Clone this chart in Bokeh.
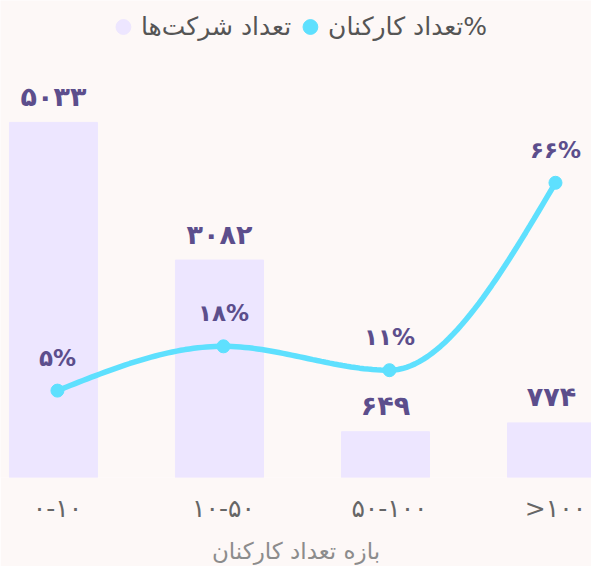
import numpy as np
from bokeh.plotting import figure
from bokeh.models import Range1d, ColumnDataSource, Legend, LegendItem, FixedTicker
from bokeh.core.properties import value
from bokeh.embed import file_html
from bokeh.resources import INLINE

# ---- data ----
categories = ["۰-۱۰", "۱۰-۵۰", "۵۰-۱۰۰", "\u202d>۱۰۰\u202c"]
company_counts = [5033, 3082, 649, 774]
employee_pct = [5, 18, 11, 66]
series_names = ["تعداد شرکت‌ها", "تعداد کارکنان%"]
axis_title = "بازه تعداد کارکنان"

FA = str.maketrans("0123456789", "۰۱۲۳۴۵۶۷۸۹")
def fa(n):
    return str(n).translate(FA)

BAR_C = "#ede6ff"
LINE_C = "#5ee0fe"
TXT_C = "#5c4e8c"
BG = "#fdf8f7"
FONT = "DejaVu Sans"

xs = np.arange(len(categories), dtype=float)

p = figure(width=591, height=566, output_backend="svg", toolbar_location=None,
           x_range=Range1d(-0.343, 3.217), y_range=Range1d(0, 6761),
           min_border_left=0, min_border_right=0, min_border_top=0, min_border_bottom=86)
p.background_fill_color = BG
p.border_fill_color = BG
p.outline_line_color = None
p.xgrid.visible = False
p.ygrid.visible = False
p.yaxis.visible = False
p.extra_y_ranges = {"pct": Range1d(-20.5, 119.5)}

# bars
bar_src = ColumnDataSource(dict(x=xs - 0.024, top=company_counts,
                                lab=[fa(v) for v in company_counts]))
p.vbar(x="x", top="top", width=88 / 166, source=bar_src, color=BAR_C)

# monotone-x cubic curve through the percentage points
def monotone(xv, yv, n=40):
    xv = np.asarray(xv, float); yv = np.asarray(yv, float)
    h = np.diff(xv); s = np.diff(yv) / h
    m = np.zeros_like(yv)
    for i in range(1, len(xv) - 1):
        s0, s1 = s[i - 1], s[i]
        pp = (s0 * h[i] + s1 * h[i - 1]) / (h[i - 1] + h[i])
        m[i] = (np.sign(s0) + np.sign(s1)) * min(abs(s0), abs(s1), 0.5 * abs(pp))
    m[0] = (3 * s[0] - m[1]) / 2
    m[-1] = (3 * s[-1] - m[-2]) / 2
    X, Y = [], []
    for i in range(len(xv) - 1):
        t = np.linspace(0, 1, n)
        h00 = 2*t**3 - 3*t**2 + 1; h10 = t**3 - 2*t**2 + t
        h01 = -2*t**3 + 3*t**2; h11 = t**3 - t**2
        X.extend(xv[i] + t * h[i])
        Y.extend(h00*yv[i] + h10*h[i]*m[i] + h01*yv[i+1] + h11*h[i]*m[i+1])
    return X, Y

cx, cy = monotone(xs, employee_pct)
p.line(cx, cy, y_range_name="pct", line_color=LINE_C, line_width=5.5, line_cap="round")
pct_src = ColumnDataSource(dict(x=xs, y=employee_pct, lab=[fa(v) + "%" for v in employee_pct]))
p.scatter("x", "y", source=pct_src, y_range_name="pct", size=13, color=LINE_C)

# value labels
p.text("x", "top", text="lab", source=bar_src, y_offset=-26, text_align="center",
       text_baseline="middle", text_font=value(FONT), text_font_style="bold",
       text_font_size="27px", text_color=TXT_C)
p.text("x", "y", text="lab", source=pct_src, y_range_name="pct", y_offset=-33,
       text_align="center", text_baseline="middle", text_font=value(FONT),
       text_font_style="bold", text_font_size="23px", text_color=TXT_C)

# x axis
ax = p.xaxis[0]
ax.ticker = FixedTicker(ticks=list(xs))
ax.major_label_overrides = {i: c for i, c in enumerate(categories)}
ax.axis_line_color = None
ax.major_tick_line_color = None
ax.minor_tick_line_color = None
ax.major_label_standoff = 10
ax.major_label_text_font = FONT
ax.major_label_text_font_size = "25px"
ax.major_label_text_color = "#666666"
ax.axis_label = axis_title
ax.axis_label_text_font = FONT
ax.axis_label_text_font_style = "normal"
ax.axis_label_text_font_size = "23px"
ax.axis_label_text_color = "#8c8c8c"
ax.axis_label_standoff = 12

# legend (marker renderers placed outside the visible range)
d1 = p.scatter(x=[-5], y=[-5], size=15, color=BAR_C)
d2 = p.scatter(x=[-5], y=[-5], size=15, color=LINE_C)
leg = Legend(items=[LegendItem(label=series_names[0], renderers=[d1]),
                    LegendItem(label=series_names[1], renderers=[d2])],
             orientation="horizontal", location="top_center",
             background_fill_alpha=0, border_line_color=None,
             label_text_font=FONT, label_text_font_size="25px", label_text_color="#555555",
             glyph_width=37, glyph_height=37, spacing=0, margin=8, padding=7,
             label_standoff=-5)
p.add_layout(leg, "center")

open("out.html", "w").write(file_html(p, INLINE))
